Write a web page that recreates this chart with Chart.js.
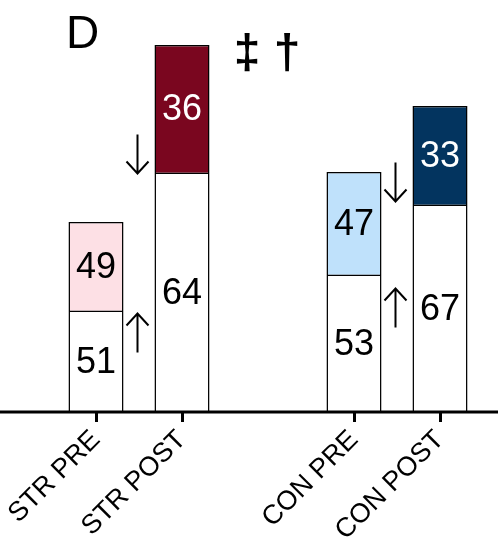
<!DOCTYPE html>
<html>
<head>
<meta charset="utf-8">
<script src="https://cdn.jsdelivr.net/npm/chart.js@4"></script>
<style>
  html, body { margin: 0; padding: 0; background: #fff; }
  #wrap { width: 501px; height: 542px; position: relative; }
</style>
</head>
<body>
<div id="wrap"><canvas id="chart"></canvas></div>
<script>
// --- DATOS ---
const categorias = ['STR PRE', 'STR POST', '', 'CON PRE', 'CON POST'];
// alturas de cada segmento (unidades del eje, eje oculto)
const alturaBase = [100, 238, null, 136, 206];
const alturaSuperior = [90, 129, null, 104, 100];
// porcentajes escritos dentro de cada segmento
const pctBase = [51, 64, null, 53, 67];
const pctSuperior = [49, 36, null, 47, 33];
const coloresSuperior = ['#fde0e5', '#7a061f', null, '#bfe1fb', '#03345f'];
const coloresTexto = ['#000', '#fff', null, '#000', '#fff'];
// flechas entre barras: [categoria izquierda, valor y (centro), direccion]
const flechas = [
    [0, 258, 'down'],
    [0, 79, 'up'],
    [3, 230, 'down'],
    [3, 104, 'up']
];
const yMax = 380;

const FUENTE = '"Liberation Sans", Arial, sans-serif';

// dibuja una flecha fina con punta abierta (como la del original)
function flecha(c, x, yc, dir) {
    const L = 39, w = 11, h = 12;
    const s = dir === 'up' ? -1 : 1;
    const tip = yc + s * L / 2;
    c.beginPath();
    c.moveTo(x, yc - s * L / 2);
    c.lineTo(x, tip);
    c.moveTo(x - w, tip - s * h);
    c.lineTo(x, tip);
    c.lineTo(x + w, tip - s * h);
    c.stroke();
}

// --- PLUGIN: textos, flechas y linea del eje ---
const extras = {
    id: 'extras',
    afterDatasetsDraw(chart) {
        const c = chart.ctx;
        const sx = chart.scales.x, sy = chart.scales.y;
        c.save();
        c.textAlign = 'center';
        c.textBaseline = 'middle';
        c.font = '36px ' + FUENTE;

        // porcentajes dentro de las barras
        [[0, pctBase, null], [1, pctSuperior, coloresTexto]].forEach(([ds, vals, cols]) => {
            chart.getDatasetMeta(ds).data.forEach((bar, i) => {
                if (vals[i] == null) return;
                c.fillStyle = cols ? cols[i] : '#000';
                c.fillText(String(vals[i]), bar.x, (bar.y + bar.base) / 2 + 1);
            });
        });

        // flechas
        c.fillStyle = '#000';
        c.strokeStyle = '#000';
        c.lineWidth = 2;
        flechas.forEach(([i, v, d]) => {
            const x = (sx.getPixelForValue(i) + sx.getPixelForValue(i + 1)) / 2;
            flecha(c, x - 1.5, sy.getPixelForValue(v), d);
        });

        // simbolos de significancia sobre la categoria vacia
        c.font = 'bold 48px ' + FUENTE;
        c.fillText('\u2021 \u2020', sx.getPixelForValue(2) - 1, sy.getPixelForValue(357));

        // letra del panel
        c.textAlign = 'left';
        c.textBaseline = 'alphabetic';
        c.font = '46px ' + FUENTE;
        c.fillText('D', 66, 48);

        // linea del eje x a todo el ancho
        const yb = sy.getPixelForValue(0);
        c.lineWidth = 3;
        c.beginPath();
        c.moveTo(0, yb);
        c.lineTo(498, yb);
        c.stroke();
        c.restore();
    }
};

const ctx = document.getElementById('chart').getContext('2d');
new Chart(ctx, {
    type: 'bar',
    data: {
        labels: categorias,
        datasets: [
            {
                data: alturaBase,
                backgroundColor: '#fff',
                borderColor: '#000',
                borderWidth: { top: 0, left: 1.5, right: 1.5, bottom: 0 },
                borderSkipped: false
            },
            {
                data: alturaSuperior,
                backgroundColor: coloresSuperior,
                borderColor: '#000',
                borderWidth: 1.5,
                borderSkipped: false
            }
        ]
    },
    options: {
        responsive: true,
        maintainAspectRatio: false,
        animation: false,
        layout: { padding: { left: 53, right: 18, top: 32, bottom: 0 } },
        plugins: { legend: { display: false }, tooltip: { enabled: false } },
        datasets: { bar: { categoryPercentage: 1, barPercentage: 0.64 } },
        scales: {
            x: {
                stacked: true,
                border: { display: false },
                grid: {
                    offset: false,
                    drawOnChartArea: false,
                    drawTicks: true,
                    tickLength: 10,
                    tickWidth: 3,
                    tickColor: (c) => categorias[c.index] ? '#000' : 'rgba(0,0,0,0)'
                },
                ticks: {
                    color: '#000',
                    font: { family: FUENTE, size: 27 },
                    minRotation: 45,
                    maxRotation: 45,
                    padding: 2,
                    autoSkip: false
                },
                afterFit: (s) => { s.height = 130; }
            },
            y: {
                stacked: true,
                display: false,
                min: 0,
                max: yMax
            }
        }
    },
    plugins: [extras]
});
</script>
</body>
</html>
